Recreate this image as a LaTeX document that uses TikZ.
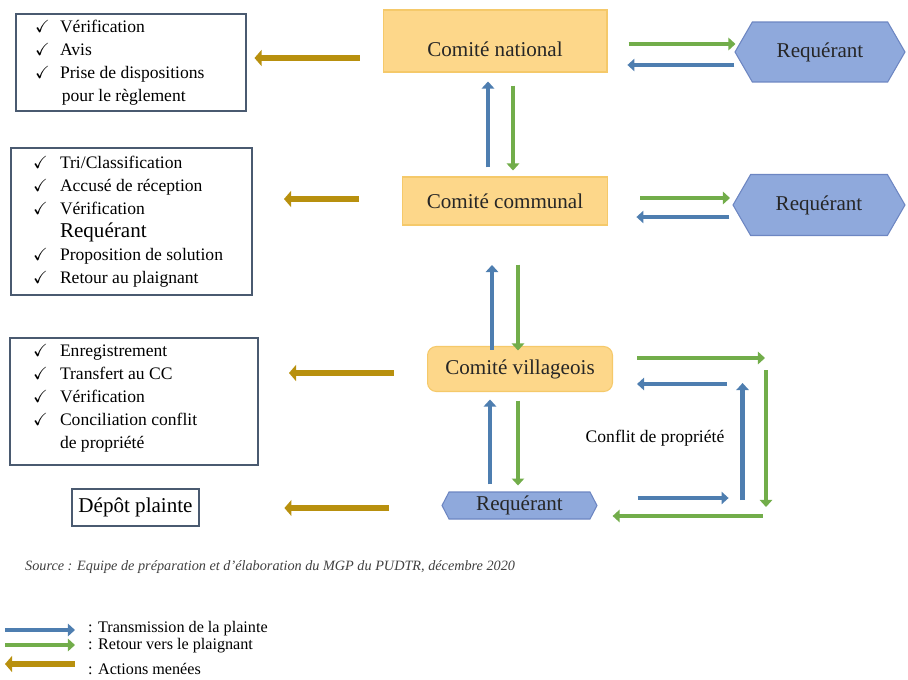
\documentclass[tikz,border=0pt]{standalone}
\usepackage{fontspec}
\setmainfont{Liberation Serif}
\usepackage{amssymb}
\usetikzlibrary{arrows.meta,shapes.symbols}

\definecolor{comfill}{HTML}{FDD78A}
\definecolor{comdraw}{HTML}{F5C96A}
\definecolor{reqfill}{HTML}{8FA9DC}
\definecolor{reqdraw}{HTML}{6D86C2}
\definecolor{boxdraw}{HTML}{4A5A70}
\definecolor{gold}{HTML}{B8900E}
\definecolor{transblue}{HTML}{4E7EB0}
\definecolor{retgreen}{HTML}{72AD4A}

\tikzset{
  comite/.style={rectangle,fill=comfill,draw=comdraw,line width=0.6pt,
    font=\fontsize{12}{14}\selectfont,text=black!85},
  requerant/.style={signal,signal to=west and east,signal pointer angle=120,
    fill=reqfill,draw=reqdraw,line width=0.6pt,inner sep=0pt,
    font=\fontsize{12}{14}\selectfont,text=black!85},
  listbox/.style={rectangle,draw=boxdraw,line width=0.7pt,inner sep=0pt,
    font=\fontsize{10}{13}\selectfont},
  trans/.style={draw=transblue,line width=2.4pt,-{Triangle[length=4pt,width=7pt]}},
  retour/.style={draw=retgreen,line width=2.4pt,-{Triangle[length=4pt,width=7pt]}},
  action/.style={draw=gold,line width=3.2pt,-{Triangle[length=4pt,width=9pt]}},
}
\newcommand{\ck}{$\checkmark$}

\begin{document}
\begin{tikzpicture}[x=0.02cm,y=-0.02cm]
  \useasboundingbox (0,0) rectangle (908,679);

  % comites
  \node[comite,minimum width=4.48cm,minimum height=1.24cm] (cn) at (495,41) {\raisebox{-9pt}[0pt][0pt]{Comité national}};
  \node[comite,minimum width=4.1cm,minimum height=0.96cm] (cc) at (505,201) {Comité communal};
  \node[comite,rounded corners=5pt,minimum width=3.7cm,minimum height=0.9cm] (cv) at (520,369) {Comité villageois};

  % requerants
  \node[requerant,minimum width=3.4cm,minimum height=1.2cm] (r1) at (820,52) {Requérant};
  \node[requerant,minimum width=3.44cm,minimum height=1.22cm] (r2) at (819,205) {Requérant};
  \node[requerant,signal pointer angle=125,minimum width=3.1cm,minimum height=0.54cm] (r3) at (519.5,505.5) {Requérant};

  % actions
  \node[listbox,minimum width=4.6cm,minimum height=1.94cm] (b1) at (131,62.5) {%
    \begin{tabular}{@{\hspace{0.38cm}}p{0.5cm}@{}p{3.72cm}@{}}
      \ck & Vérification\\ \ck & Avis\\ \ck & Prise de dispositions\\ & \hspace{1pt}pour le règlement
    \end{tabular}};
  \node[listbox,minimum width=4.82cm,minimum height=2.94cm] (b2) at (131.5,221.5) {%
    \begin{tabular}{@{\hspace{0.44cm}}p{0.54cm}@{}p{3.84cm}@{}}
      \ck & Tri/Classification\\ \ck & Accusé de réception\\ \ck & Vérification\\
      & {\fontsize{12}{13}\selectfont Requérant}\\ \ck & Proposition de solution\\ \ck & Retour au plaignant
    \end{tabular}};
  \node[listbox,minimum width=4.96cm,minimum height=2.54cm] (b3) at (134,401.5) {%
    \begin{tabular}{@{\hspace{0.46cm}}p{0.54cm}@{}p{3.96cm}@{}}
      \ck & Enregistrement\\ \ck & Transfert au CC\\ \ck & Vérification\\ \ck & Conciliation conflit\\ & de propriété\\[4pt]
    \end{tabular}};
  \node[listbox,font=\fontsize{12}{14}\selectfont,minimum width=2.54cm,minimum height=0.74cm] (dp) at (135.5,507.5) {Dépôt plainte};

  \node[font=\fontsize{10}{12}\selectfont] (conflit) at (655,438) {Conflit de propriété};

  % actions menees
  \draw[action] (cn.west) ++(-23,17) -- ++(-105,0);
  \draw[action] (cc.west) ++(-43,-2) -- ++(-75,0);
  \draw[action] (cv.west) ++(-33,4) -- ++(-105,0);
  \draw[action] (r3.west) ++(-52,2.5) -- ++(-105,0);

  % niveau national
  \draw[retour] (cn.east) ++(21,3) -- ++(107,0);
  \draw[trans] (r1.west) ++(0,13) -- ++(-107,0);
  \draw[trans] (cc.north) ++(-17,-9) -- ++(0,-86);
  \draw[retour] (cn.south) ++(18,13) -- ++(0,85);

  % niveau communal
  \draw[retour] (cc.east) ++(32,-3) -- ++(90,0);
  \draw[trans] (r2.west) ++(-3,12) -- ++(-93,0);
  \draw[trans] (cv.north) ++(-28,4) -- ++(0,-85);
  \draw[retour] (cc.south) ++(13,39) -- ++(0,86);

  % niveau villageois
  \draw[trans] (r3.north) ++(-29.5,-7) -- ++(0,-85);
  \draw[retour] (cv.south) ++(-2,8.5) -- ++(0,85);
  \draw[retour] (cv.east) ++(24,-11) -- ++(128,0);
  \draw[trans] (cv.east) ++(114,15) -- ++(-90,0);
  \draw[trans] (r3.east) ++(145,-5.5) -- ++(0,-117);
  \draw[retour] (cv.east) ++(153,1) -- ++(0,137);
  \draw[trans] (r3.east) ++(40,-7.5) -- ++(91,0);
  \draw[retour] (r3.east) ++(165,10.5) -- ++(-150,0);

  % source
  \node[anchor=west,font=\fontsize{8.1}{10}\selectfont\itshape,text=black!75] (src) at (19,567)
    {Source : Equipe de préparation et d'élaboration du MGP du PUDTR, décembre 2020};

  % legende
  \node[anchor=west,font=\fontsize{9.2}{11}\selectfont] (lg1) at (82,629) {: Transmission de la plainte};
  \node[anchor=west,font=\fontsize{9.2}{11}\selectfont] (lg2) at (82,646) {: Retour vers le plaignant};
  \node[anchor=west,font=\fontsize{9.2}{11}\selectfont] (lg3) at (82,669) {: Actions menées};
  \draw[trans] (lg1.west) ++(-77,1) -- ++(70,0);
  \draw[retour] (lg2.west) ++(-77,-1) -- ++(70,0);
  \draw[action] (lg3.west) ++(-7,-5) -- ++(-70,0);
\end{tikzpicture}
\end{document}
